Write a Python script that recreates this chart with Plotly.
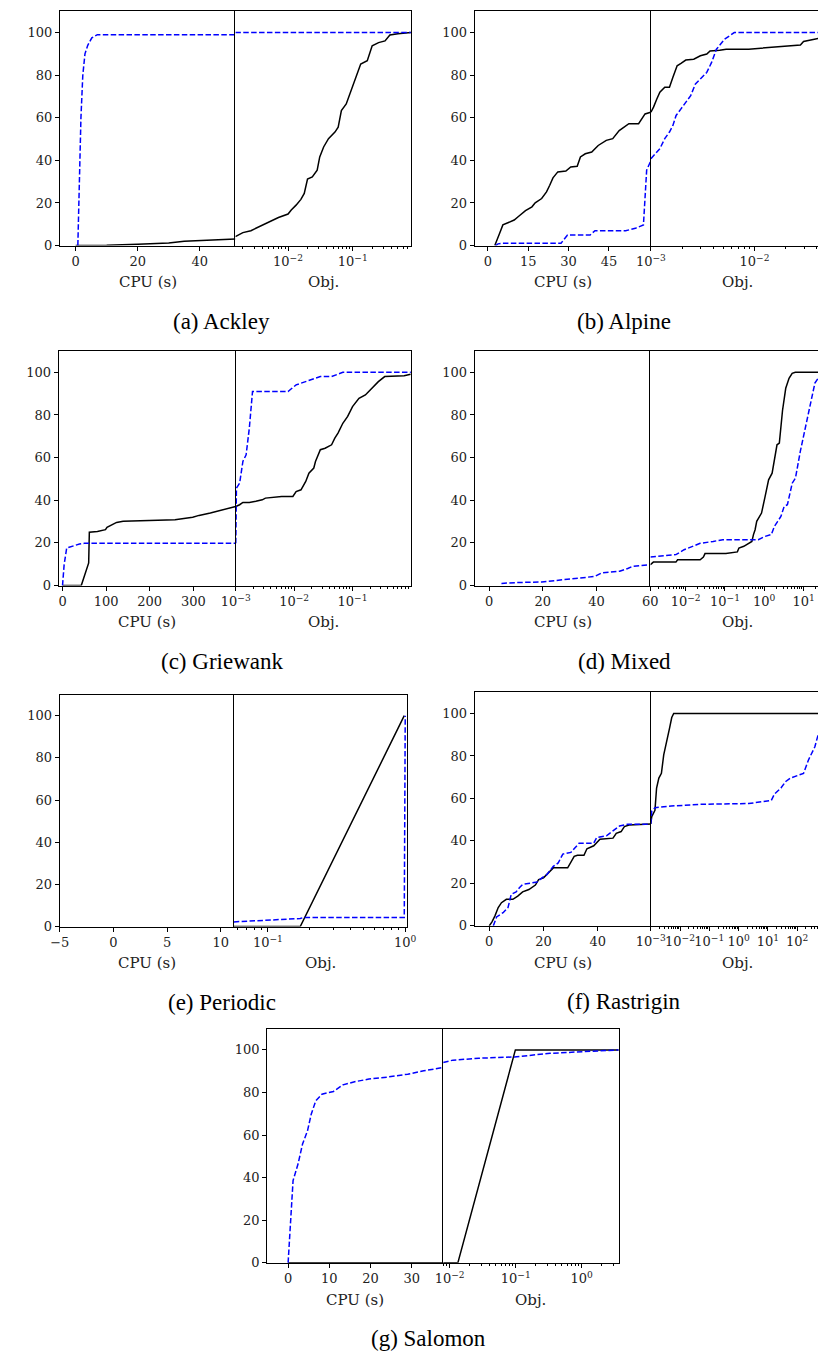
import math
import plotly.graph_objects as go

# ---------------- data ----------------
# (a) Ackley
a_cpu_black_x = [0, 10, 20, 30, 35, 45, 51.5]
a_cpu_black_y = [0, 0.1, 0.6, 1.2, 2.0, 2.5, 3.1]
a_cpu_blue_x = [0.7, 1.2, 1.7, 2.3, 3.0, 3.9, 5.2, 7.0, 51.5]
a_cpu_blue_y = [0, 30, 60, 80, 90, 94, 97.5, 99, 99]
a_obj_black_x = [1.53e-3, 2.0e-3, 2.66e-3, 3.55e-3, 5.0e-3, 7.1e-3, 1.0e-2, 1.12e-2, 1.33e-2,
                 1.58e-2, 1.78e-2, 2.0e-2, 2.37e-2, 2.82e-2, 3.09e-2, 3.55e-2, 4.22e-2, 5.31e-2,
                 5.96e-2, 6.68e-2, 7.94e-2, 9.44e-2, 0.112, 0.133, 0.168, 0.20, 0.251, 0.316,
                 0.376, 0.50, 0.794]
a_obj_black_y = [4.2, 6.1, 7.0, 8.9, 11.2, 13.2, 14.8, 16.7, 19.0, 21.7, 24.5, 31.2, 32.2, 35.4,
                 41.6, 46.3, 50.2, 53.3, 55.6, 63.4, 66.5, 72.7, 78.2, 85.2, 86.8, 93.8, 95.3,
                 96.1, 98.9, 99.5, 100]
a_obj_blue_x = [1.53e-3, 0.794]
a_obj_blue_y = [100, 100]

# (b) Alpine
b_cpu_black_x = [2.6, 3.5, 4.4, 5.6, 7.4, 9.8, 11.6, 14, 16.4, 17.6, 20, 21.8, 23, 24.2, 26, 29,
                 30.8, 33.2, 34.4, 36.2, 38.6, 41, 44, 46.4, 48.8, 51.2, 52.4, 56, 58.4, 60.5]
b_cpu_black_y = [0, 3.4, 5.8, 9.7, 10.7, 12, 13.9, 16.4, 18.2, 20.1, 22.1, 25.2, 28.3, 31.8,
                 34.6, 35, 36.9, 37.2, 41.6, 43.1, 43.9, 47, 49.4, 50.2, 54, 56.4, 57.2, 57.2,
                 61.8, 62.6]
b_cpu_blue_x = [2.9, 3.8, 5.6, 27.2, 29.6, 38, 39.8, 51.2, 54.8, 57.8, 59, 60.5]
b_cpu_blue_y = [0, 0.8, 1.1, 1.1, 5, 5, 7, 7, 8.1, 9.7, 35.4, 39.7]
b_obj_black_x = [1.0e-3, 1.06e-3, 1.14e-3, 1.22e-3, 1.36e-3, 1.51e-3, 1.63e-3, 1.79e-3, 1.95e-3,
                 2.17e-3, 2.59e-3, 3.0e-3, 3.46e-3, 3.72e-3, 4.61e-3, 5.32e-3, 8.79e-3, 2.77e-2,
                 2.97e-2, 4.26e-2, 4.68e-2]
b_obj_black_y = [62.6, 65, 68.8, 72, 74.3, 74.3, 79, 84.4, 85.5, 87.1, 87.5, 89.1, 89.9, 91.4,
                 91.7, 92.2, 92.2, 94.2, 95.8, 97.4, 100]
b_obj_blue_x = [1.0e-3, 1.10e-3, 1.22e-3, 1.36e-3, 1.51e-3, 1.63e-3, 1.75e-3, 1.95e-3, 2.17e-3,
                2.42e-3, 2.69e-3, 3.0e-3, 3.46e-3, 3.85e-3, 4.29e-3, 5.13e-3, 6.37e-3, 4.68e-2]
b_obj_blue_y = [40.8, 43.1, 45.5, 50.2, 53.3, 56.4, 61.1, 64.2, 67.3, 70.4, 75.9, 78.2, 81.3,
                86, 92.2, 96.9, 100, 100]

# (c) Griewank
c_cpu_black_x = [0, 43, 60, 61.5, 80, 98.5, 102, 113, 124, 139, 206, 258, 298.5, 313, 339, 369, 397]
c_cpu_black_y = [0, 0, 10.6, 25, 25.4, 26.2, 27.3, 28.5, 29.6, 30.1, 30.4, 30.9, 32, 32.9, 34,
                 35.6, 37.1]
c_cpu_blue_x = [0, 3.7, 9.6, 20.7, 39, 50, 397]
c_cpu_blue_y = [0, 9.8, 17.6, 18.4, 19.5, 19.8, 19.8]
c_obj_black_x = [1.0e-3, 1.164e-3, 1.324e-3, 1.706e-3, 2.203e-3, 2.84e-3, 3.22e-3, 6.10e-3,
                 9.51e-3, 1.08e-2, 1.31e-2, 1.58e-2, 1.79e-2, 2.17e-2, 2.32e-2, 2.81e-2, 3.39e-2,
                 4.38e-2, 4.97e-2, 5.64e-2, 6.82e-2, 8.26e-2, 0.1, 0.129, 0.166, 0.214, 0.277,
                 0.356, 0.766, 0.99]
c_obj_black_y = [37.1, 37.9, 39, 39, 39.5, 40.2, 41, 41.8, 41.8, 44.1, 44.9, 48.8, 52.7, 55.1,
                 58.2, 63.7, 64.4, 66, 69.1, 71.5, 76.1, 79.3, 83.9, 87.8, 89.4, 92.5, 95.6, 98,
                 98.4, 99.1]
c_obj_blue_x = [1.0e-3, 1.026e-3, 1.164e-3, 1.324e-3, 1.503e-3, 1.706e-3, 1.936e-3, 2.203e-3,
                7.85e-3, 1.08e-2, 1.69e-2, 2.81e-2, 4.38e-2, 6.82e-2, 1.0]
c_obj_blue_y = [19.8, 45.7, 48, 58.2, 61.3, 73.8, 91, 91, 91, 94.1, 95.9, 98, 98, 100, 100]

# (d) Mixed
d_cpu_blue_x = [4.6, 10, 19.6, 25.7, 30.5, 36.5, 39.5, 41.9, 43.7, 48.6, 51.6, 53.4, 60.0]
d_cpu_blue_y = [1, 1.4, 1.7, 2.3, 3.1, 3.9, 4.4, 5.9, 6.2, 6.7, 8, 9, 9.8]
d_obj_black_x = [1.27e-3, 1.51e-3, 5.66e-3, 6.24e-3, 2.34e-2, 2.83e-2, 3.11e-2, 0.106, 0.207,
                 0.227, 0.302, 0.40, 0.484, 0.532, 0.585, 0.643, 0.776, 0.853, 1.03, 1.29, 1.585,
                 1.82, 2.11, 2.42, 2.92, 3.52, 4.27, 5.13, 6.17, 33.1]
d_obj_black_y = [9.8, 11, 11, 12.1, 12.1, 13.4, 15, 15, 15.8, 17.6, 18.4, 19.7, 20.7, 23.9, 26.2,
                 30.1, 32.4, 34, 41, 49.6, 52.7, 59.8, 66, 66.8, 82.2, 92.5, 97.2, 99.5, 100, 100]
d_obj_blue_x = [1.27e-3, 5.66e-3, 9.12e-3, 1.46e-2, 2.34e-2, 5.01e-2, 8.81e-2, 0.706, 1.03, 1.51,
                1.82, 2.20, 2.65, 3.21, 3.88, 5.15, 6.22, 8.26, 11.0, 14.6, 19.4, 23.4, 32.9]
d_obj_blue_y = [13.4, 14.5, 16.8, 18.4, 19.8, 20.7, 21.5, 21.5, 23, 23.9, 27.8, 30.1, 32.4, 37.1,
                37.9, 48, 50.4, 62.9, 73.8, 85.5, 94.9, 97.2, 100]

# (e) Periodic  (no CPU curve is visible in the reference)
e_cpu_x = []
e_cpu_y = []
e_obj_black_x = [5.64e-2, 0.172, 0.984]
e_obj_black_y = [0, 0, 100]
e_obj_blue_x = [5.64e-2, 0.172, 0.182, 0.984, 1.0]
e_obj_blue_y = [2.2, 3.8, 4.3, 4.3, 100]

# (f) Rastrigin
f_cpu_black_x = [0, 1, 2.1, 3.3, 4.5, 6.3, 8.7, 10.5, 12.3, 14.6, 17, 18.2, 20, 21.8, 23.6, 28.9,
                 30.1, 31.3, 32.5, 34.9, 36, 38.5, 40.8, 42.6, 45.6, 46.8, 48.6, 49.8, 51.5, 59.5]
f_cpu_black_y = [0, 1.9, 4.7, 8.6, 10.9, 12.5, 12.5, 14, 16, 17.1, 19.2, 21.8, 22.6, 24.9, 27.3,
                 27.3, 30.4, 32.7, 33.2, 33.2, 36.3, 37.7, 40.8, 41, 41.3, 43.6, 44.4, 46.7,
                 47.5, 48]
f_cpu_blue_x = [1.5, 2.7, 5.1, 6.9, 8.1, 9.9, 11.1, 12.3, 17.6, 19.4, 21.2, 23.6, 25.4, 27.1, 30.1,
                33.1, 38.5, 39.6, 43.2, 45.6, 48, 51, 59.5]
f_cpu_blue_y = [0, 4.2, 6.2, 8.6, 14.8, 16, 17.9, 19.5, 20.6, 22.6, 24.1, 28, 29.6, 33.8, 34.6,
                38.9, 38.9, 41.6, 42.4, 44.7, 47, 47.8, 47.8]
f_obj_black_x = [1e-3, 1.08e-3, 1.39e-3, 1.50e-3, 1.58e-3, 1.89e-3, 2.31e-3, 2.77e-3, 3.39e-3,
                 4.37e-3, 5.21e-3, 6.08e-3, 832]
f_obj_black_y = [48, 51.4, 54.4, 58.7, 64.9, 69.6, 71.8, 80.5, 86.8, 93, 98.1, 100, 100]
f_obj_blue_x = [1e-3, 1.08e-3, 1.39e-3, 4.95e-3, 4.89e-2, 2.21, 13.1, 16.9, 28.1, 41.1, 60.1, 166,
                243, 405, 593, 824]
f_obj_blue_y = [48, 54, 55.6, 56.4, 57.2, 57.6, 59, 62.1, 64.9, 68, 69.6, 71.8, 78, 84.3, 92.7,
                98.9]

# (g) Salomon
g_cpu_black_x = [0, 37.6]
g_cpu_black_y = [0, 0]
g_cpu_blue_x = [0, 0.4, 1.2, 2.4, 3.5, 4.7, 5.6, 6.7, 8.2, 11, 12.2, 13.3, 16.5, 19.6, 24.3, 29,
                32.9, 37.5]
g_cpu_blue_y = [0, 13.6, 38.6, 46.4, 55.8, 62, 69.8, 76.1, 79.2, 80.5, 82.3, 83.6, 85.2, 86.3,
                87.3, 88.6, 90.2, 91.7]
g_obj_black_x = [7.98e-3, 1.33e-2, 9.89e-2, 3.63]
g_obj_black_y = [0, 0, 100, 100]
g_obj_blue_x = [7.98e-3, 1.12e-2, 2.76e-2, 9.55e-2, 0.331, 3.63]
g_obj_blue_y = [94.1, 95.2, 96.1, 96.7, 98.4, 100]

captions = ["(a) Ackley", "(b) Alpine", "(c) Griewank", "(d) Mixed",
            "(e) Periodic", "(f) Rastrigin", "(g) Salomon"]
y_ticks = [0, 20, 40, 60, 80, 100]
cpu_ticks = [[0, 20, 40], [0, 15, 30, 45], [0, 100, 200, 300], [0, 20, 40, 60],
             [-5, 0, 5, 10], [0, 20, 40], [0, 10, 20, 30]]
obj_tick_exps = [[-2, -1], [-3, -2], [-3, -2, -1], [-2, -1, 0, 1],
                 [-1, 0], [-3, -2, -1, 0, 1, 2], [-2, -1, 0]]

# ---------------- layout geometry (pixels) ----------------
W, H = 826, 1354
# left, divider, right, top, bottom
boxes = [
    (38.0, 219.0, 400.0, 3.3, 239.0),
    (465.7, 647.3, 826.0, 3.3, 239.0),
    (36.7, 219.3, 400.0, 345.0, 581.0),
    (465.7, 647.0, 826.0, 345.0, 581.0),
    (37.7, 217.3, 396.0, 690.7, 924.0),
    (465.7, 647.3, 826.0, 688.3, 923.3),
    (251.7, 433.3, 614.3, 1026.7, 1262.3),
]
cpu_ranges = [[-5.1, 51.5], [-4.9, 60.5], [-9, 397], [-5.4, 60.05], [-5.02, 11.2],
              [-5.4, 59.5], [-5.1, 37.6]]
obj_ranges = [[-2.815, -0.1], [-3.002, -1.33], [-3.002, 0.0], [-2.896, 1.52], [-1.249, 0.013],
              [-3.002, 2.92], [-2.098, 0.56]]
caption_x = [205, 620, 205, 620, 205, 620, 418]

panels = [
    ([(a_cpu_black_x, a_cpu_black_y, "k"), (a_cpu_blue_x, a_cpu_blue_y, "b")],
     [(a_obj_black_x, a_obj_black_y, "k"), (a_obj_blue_x, a_obj_blue_y, "b")]),
    ([(b_cpu_black_x, b_cpu_black_y, "k"), (b_cpu_blue_x, b_cpu_blue_y, "b")],
     [(b_obj_black_x, b_obj_black_y, "k"), (b_obj_blue_x, b_obj_blue_y, "b")]),
    ([(c_cpu_black_x, c_cpu_black_y, "k"), (c_cpu_blue_x, c_cpu_blue_y, "b")],
     [(c_obj_black_x, c_obj_black_y, "k"), (c_obj_blue_x, c_obj_blue_y, "b")]),
    ([(d_cpu_blue_x, d_cpu_blue_y, "b")],
     [(d_obj_black_x, d_obj_black_y, "k"), (d_obj_blue_x, d_obj_blue_y, "b")]),
    ([(e_cpu_x, e_cpu_y, "k")],
     [(e_obj_black_x, e_obj_black_y, "k"), (e_obj_blue_x, e_obj_blue_y, "b")]),
    ([(f_cpu_black_x, f_cpu_black_y, "k"), (f_cpu_blue_x, f_cpu_blue_y, "b")],
     [(f_obj_black_x, f_obj_black_y, "k"), (f_obj_blue_x, f_obj_blue_y, "b")]),
    ([(g_cpu_black_x, g_cpu_black_y, "k"), (g_cpu_blue_x, g_cpu_blue_y, "b")],
     [(g_obj_black_x, g_obj_black_y, "k"), (g_obj_blue_x, g_obj_blue_y, "b")]),
]

TICK_FONT = dict(family="DejaVu Serif", size=13, color="#222")
LABEL_FONT = dict(family="DejaVu Serif", size=15, color="#222")
CAP_FONT = dict(family="Liberation Serif", size=23, color="black")

STYLE = {
    "k": dict(color="black", width=1.5),
    "b": dict(color="blue", width=1.5, dash="5.5px,2.4px"),
}


def sup(e):
    s = str(e).replace("-", "\u2212")
    return "10<sup>" + s + "</sup>"


fig = go.Figure()
layout = dict(width=W, height=H, margin=dict(l=0, r=0, t=0, b=0), autosize=False,
              paper_bgcolor="white", plot_bgcolor="white", showlegend=False)
annotations = []

common_axis = dict(showgrid=False, zeroline=False, showline=True,
                   linecolor="black", linewidth=1, tickcolor="black", tickwidth=1,
                   tickfont=TICK_FONT, fixedrange=True, tickangle=0)

for i, (left_series, right_series) in enumerate(panels):
    l, d, r, t, b = boxes[i]
    nl, nr = 2 * i + 1, 2 * i + 2
    xl = "x" if nl == 1 else f"x{nl}"
    yl = "y" if nl == 1 else f"y{nl}"
    xr, yr = f"x{nr}", f"y{nr}"
    ydom = [1 - b / H, 1 - t / H]

    for xs, ys, st in left_series:
        fig.add_trace(go.Scatter(x=xs, y=ys, mode="lines", line=STYLE[st], xaxis=xl, yaxis=yl,
                                 hoverinfo="skip"))
    for xs, ys, st in right_series:
        fig.add_trace(go.Scatter(x=xs, y=ys, mode="lines", line=STYLE[st], xaxis=xr, yaxis=yr,
                                 hoverinfo="skip"))

    lo, hi = obj_ranges[i]
    majors = [10.0 ** e for e in obj_tick_exps[i]]
    minors = []
    for k in range(int(math.floor(lo)) - 1, int(math.ceil(hi)) + 1):
        for m in range(2, 10):
            v = m * 10.0 ** k
            if lo <= math.log10(v) <= hi:
                minors.append(v)

    layout["xaxis" if nl == 1 else f"xaxis{nl}"] = dict(
        common_axis, mirror=True, domain=[l / W, d / W], anchor=yl, range=cpu_ranges[i],
        tickmode="array", tickvals=cpu_ticks[i],
        ticktext=[str(v).replace("-", "\u2212") for v in cpu_ticks[i]],
        ticks="outside", ticklen=4)
    layout["yaxis" if nl == 1 else f"yaxis{nl}"] = dict(
        common_axis, mirror=False, domain=ydom, anchor=xl, range=[0, 110],
        tickmode="array", tickvals=y_ticks, ticks="outside", ticklen=4)
    layout[f"xaxis{nr}"] = dict(
        common_axis, mirror=True, type="log", domain=[d / W, r / W], anchor=yr, range=[lo, hi],
        tickmode="array", tickvals=majors, ticktext=[sup(e) for e in obj_tick_exps[i]],
        ticks="outside", ticklen=4,
        minor=dict(tickmode="array", tickvals=minors, ticks="outside", ticklen=2,
                   tickcolor="black", tickwidth=0.8, showgrid=False))
    layout[f"yaxis{nr}"] = dict(
        common_axis, mirror=True, domain=ydom, anchor=xr, range=[0, 110],
        showticklabels=False, ticks="")

    annotations.append(dict(text="CPU (s)", x=(l + d) / 2 / W, y=1 - (b + 37) / H,
                            xref="paper", yref="paper", showarrow=False, font=LABEL_FONT,
                            xanchor="center", yanchor="middle"))
    annotations.append(dict(text="Obj.", x=(d + r) / 2 / W, y=1 - (b + 37) / H,
                            xref="paper", yref="paper", showarrow=False, font=LABEL_FONT,
                            xanchor="center", yanchor="middle"))
    annotations.append(dict(text=captions[i], x=caption_x[i] / W, y=1 - (b + 76) / H,
                            xref="paper", yref="paper", showarrow=False, font=CAP_FONT,
                            xanchor="center", yanchor="middle"))

layout["annotations"] = annotations
fig.update_layout(**layout)
fig.write_html("out.html")
